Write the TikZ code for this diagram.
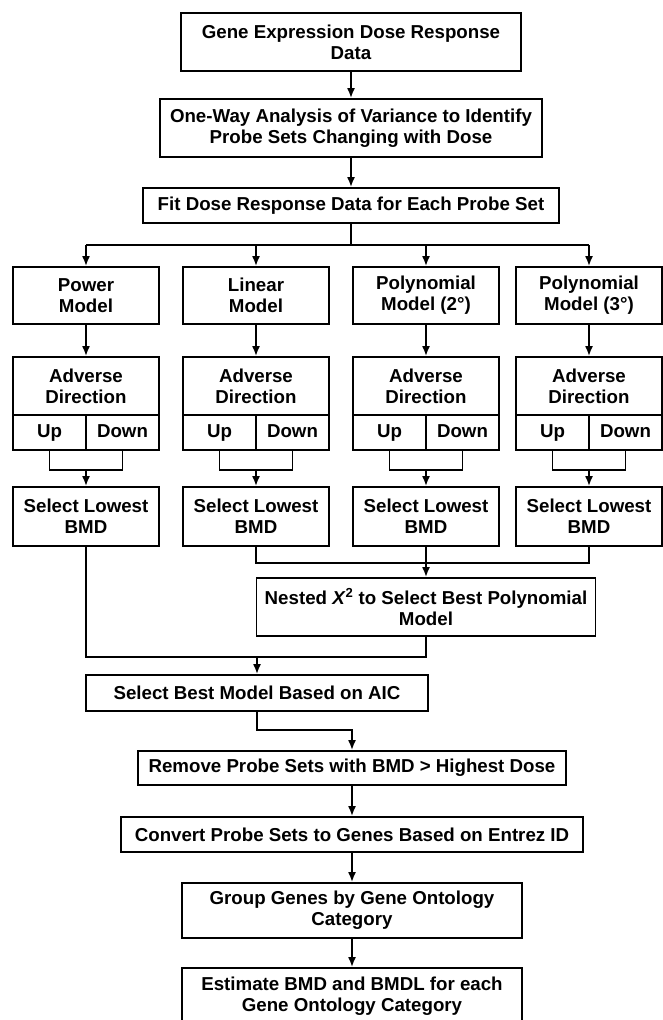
\documentclass[tikz,border=0pt]{standalone}
\usepackage{fontspec}
\setmainfont{Liberation Sans}
\usetikzlibrary{arrows.meta}
\begin{document}
\begin{tikzpicture}[x=1pt,y=-1pt,line width=1.8pt,
  box/.style={draw,inner sep=0pt,align=center,font=\fontsize{18.7}{21}\selectfont\bfseries},
  cell/.style={box,minimum width=73,minimum height=35,text height=13.5pt,text depth=3.5pt},
  arr/.style={-{Latex[length=10pt,width=8pt]}}]
\clip (0,0) rectangle (663,1020);
\node[box,minimum width=340,minimum height=58] (data) at (351,42) {Gene Expression Dose Response\\Data};
\node[box,minimum width=382,minimum height=58] (anova) at (351,128) {One-Way Analysis of Variance to Identify\\Probe Sets Changing with Dose};
\node[box,minimum width=416,minimum height=35] (fit) at (351,205.5) {Fit Dose Response Data for Each Probe Set};
\draw[arr] (data) -- (anova); \draw[arr] (anova) -- (fit);
\coordinate (bus) at (351,245); \draw (fit) -- (bus);
% four model columns
\foreach \i/\x/\t in {1/86/{Power\\Model},2/256/{Linear\\Model},3/426/{Polynomial\\Model (2°)},4/589/{Polynomial\\Model (3°)}} {
  \node[box,minimum width=146,minimum height=57] (m\i) at (\x,295.5) {\t};
  \node[box,minimum width=146,minimum height=58] (a\i) at (\x,386) {Adverse\\Direction};
  \node[cell] (u\i) at (\x-36.5,432.5) {Up};
  \node[cell] (d\i) at (\x+36.5,432.5) {Down};
  \node[box,minimum width=146,minimum height=59] (s\i) at (\x,516.5) {Select Lowest\\BMD};
  \coordinate (j\i) at (\x,470);
  \draw[arr] (bus -| m\i) -- (m\i); \draw[arr] (m\i) -- (a\i);
  \draw (u\i.south) |- (j\i) -| (d\i.south); \draw[arr] (j\i) -- (s\i);
}
\draw (bus -| m1) -- (bus -| m4);
% polynomial choice and AIC
\node[box,minimum width=339,minimum height=58] (nest) at (426,607) {Nested \textit{X}\textsuperscript{2} to Select Best Polynomial\\Model};
\coordinate (pbus) at (426,563); \draw (s2.south) |- (pbus) -| (s4.south); \draw[arr] (s3) -- (nest);
\node[box,minimum width=342,minimum height=36] (best) at (257,693) {Select Best Model Based on AIC};
\coordinate (jb) at (257,657); \draw (s1.south) |- (nest.south |- jb) -- (nest.south); \draw[arr] (jb) -- (best);
% final steps
\node[box,minimum width=428,minimum height=34] (remove) at (352,768) {Remove Probe Sets with BMD > Highest Dose};
\node[box,minimum width=462,minimum height=35] (conv) at (352,834.5) {Convert Probe Sets to Genes Based on Entrez ID};
\node[box,minimum width=340,minimum height=55] (group) at (352,910.5) {Group Genes by Gene Ontology\\Category};
\node[box,minimum width=340,minimum height=56] (est) at (352,996) {Estimate BMD and BMDL for each\\Gene Ontology Category};
\coordinate (k) at (352,730); \draw[arr] (best.south) |- (k) -- (remove);
\draw[arr] (remove) -- (conv); \draw[arr] (conv) -- (group); \draw[arr] (group) -- (est);
\end{tikzpicture}
\end{document}
